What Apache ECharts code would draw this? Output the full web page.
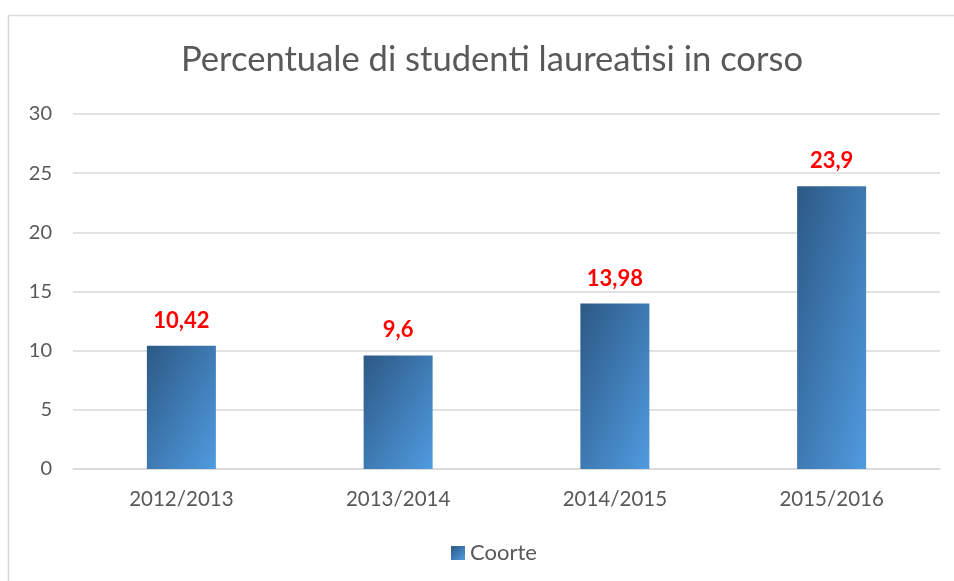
<!DOCTYPE html>
<html><head><meta charset="utf-8">
<script src="https://cdn.jsdelivr.net/npm/echarts@6/dist/echarts.min.js"></script>
<style>html,body{margin:0;padding:0;background:#fff}#c{width:954px;height:581px}</style>
</head><body><div id="c"></div>
<script>
const categories = ['2012/2013', '2013/2014', '2014/2015', '2015/2016'];
const valuesCoorte = [10.42, 9.6, 13.98, 23.9];
const labelsCoorte = ['10,42', '9,6', '13,98', '23,9'];
const yTicks = [0, 5, 10, 15, 20, 25, 30];

const C0 = '#2c5985', C1 = '#509be0';
const BAR_W = 69;
function grad(x2, y2) {
  return new echarts.graphic.LinearGradient(0, 0, x2, y2, [
    {offset: 0, color: C0}, {offset: 1, color: C1}]);
}
const chart = echarts.init(document.getElementById('c'), null, {renderer: 'canvas'});
const baseOption = {
  animation: false,
  graphic: [{type: 'rect', shape: {x: 8.5, y: 15.5, width: 960, height: 600},
    style: {fill: 'none', stroke: '#d9d9d9', lineWidth: 1.5}, silent: true}],
  title: {text: 'Percentuale di studenti laureatisi in corso', left: 487, top: 37, textAlign: 'center',
    textStyle: {fontFamily: 'Lato', fontWeight: 'normal', fontSize: 34.6, color: '#595959'}},
  grid: {left: 73, right: 14, top: 114, bottom: 112, containLabel: false},
  legend: {bottom: 12, left: 446, itemWidth: 14, itemHeight: 14, itemGap: 5,
    icon: 'rect',
    textStyle: {fontFamily: 'Lato', fontSize: 22, color: '#595959'},
    data: [{name: 'Coorte', itemStyle: {color: grad(1, 1)}}]},
  xAxis: {type: 'category', data: categories,
    axisLine: {lineStyle: {color: '#d9d9d9', width: 1.5}}, axisTick: {show: false},
    axisLabel: {fontFamily: 'Lato', fontSize: 20.5, color: '#595959', margin: 20}},
  yAxis: {type: 'value', min: 0, max: 30, interval: 5,
    axisLine: {show: false}, axisTick: {show: false},
    splitLine: {lineStyle: {color: '#d9d9d9', width: 1.5}},
    axisLabel: {fontFamily: 'Lato', fontSize: 20, color: '#595959', margin: 21,
      formatter: v => yTicks.includes(v) ? String(v) : ''}},
  series: [{name: 'Coorte', type: 'bar', data: valuesCoorte, barWidth: BAR_W,
    itemStyle: {color: grad(1, 1)},
    label: {show: true, position: 'top', distance: 14,
      formatter: p => labelsCoorte[p.dataIndex],
      fontFamily: 'Lato', fontWeight: 'bold', fontSize: 22, color: '#ff0000'}}]
};
chart.setOption(baseOption);
// Shape-scaled diagonal gradient (iso-lines along the anti-diagonal of each bar)
const y0 = chart.convertToPixel({yAxisIndex: 0}, 0);
const data = valuesCoorte.map(v => {
  const h = Math.abs(y0 - chart.convertToPixel({yAxisIndex: 0}, v));
  const w = BAR_W;
  const d = h * h + w * w;
  return {value: v, itemStyle: {color: grad(2 * h * h / d, 2 * w * w / d)}};
});
chart.setOption({series: [{data: data}]});
</script></body></html>
